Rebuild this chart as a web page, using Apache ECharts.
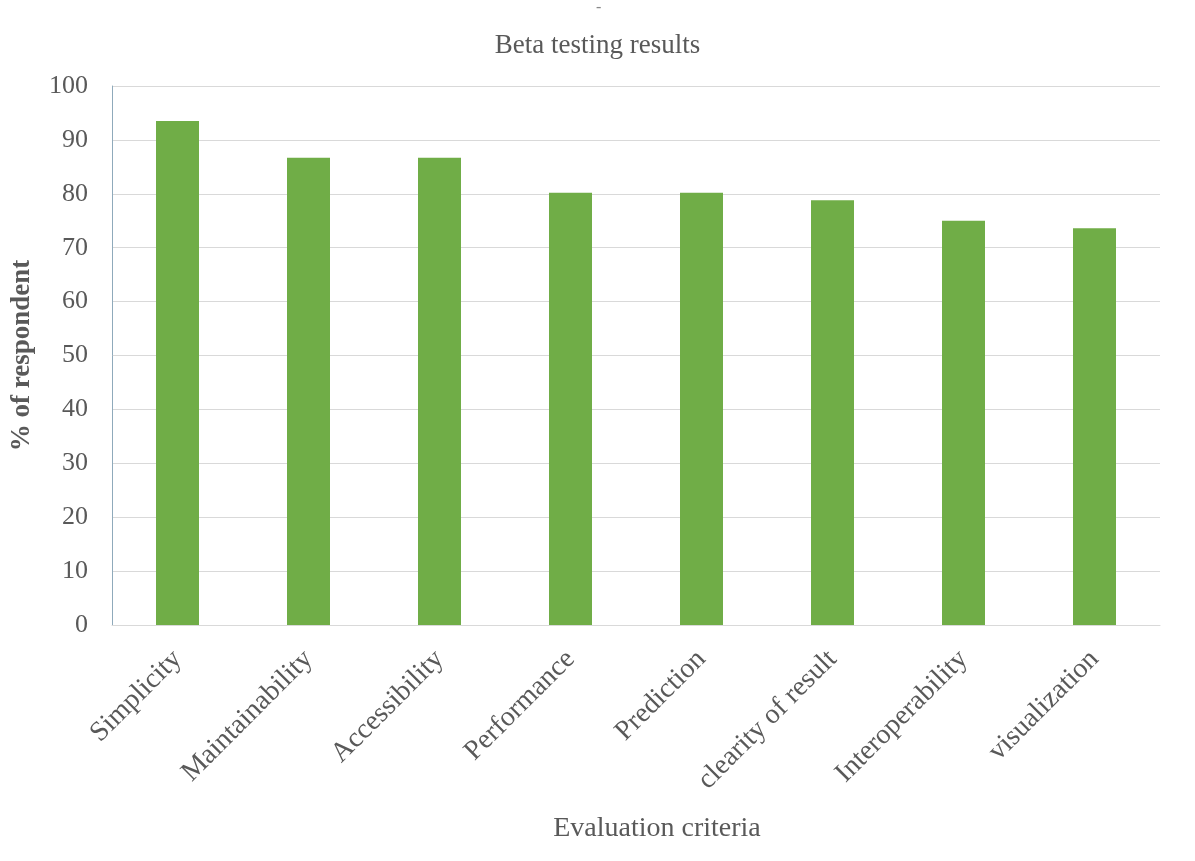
<!DOCTYPE html>
<html>
<head>
<meta charset="utf-8">
<script src="https://cdn.jsdelivr.net/npm/echarts@6/dist/echarts.min.js"></script>
<style>html,body{margin:0;padding:0;background:#fff;}#c{width:1195px;height:861px;}</style>
</head>
<body>
<div id="c"></div>
<script>
const categories = ['Simplicity','Maintainability','Accessibility','Performance','Prediction','clearity of result','Interoperability','visualization'];
const values = [93.5, 86.7, 86.7, 80.2, 80.2, 78.8, 75.0, 73.6];
const yTicks = { min: 0, max: 100, interval: 10 };

const font = '"Liberation Serif", "Times New Roman", serif';
const chart = echarts.init(document.getElementById('c'));
chart.setOption({
  backgroundColor: '#fff',
  animation: false,
  title: {
    text: 'Beta testing results',
    left: 'center',
    top: 27,
    textStyle: { fontFamily: font, fontSize: 27, fontWeight: 'normal', color: '#595959' }
  },
  graphic: [{
    type: 'text', left: 596, top: 0,
    style: { text: '-', font: '16px "Liberation Serif"', fill: '#888' }
  }],
  grid: { left: 112, right: 35, top: 86, bottom: 236 },
  xAxis: {
    type: 'category',
    data: categories,
    name: 'Evaluation criteria',
    nameLocation: 'middle',
    nameGap: 190,
    nameTextStyle: { fontFamily: font, fontSize: 28, color: '#595959', padding: [0, 0, 0, 42] },
    axisLine: { lineStyle: { color: '#d9d9d9' } },
    axisTick: { show: false },
    axisLabel: { rotate: 45, interval: 0, margin: 30, fontFamily: font, fontSize: 28, color: '#595959' }
  },
  yAxis: {
    type: 'value',
    min: yTicks.min, max: yTicks.max, interval: yTicks.interval,
    name: '% of respondent',
    nameLocation: 'middle',
    nameGap: 76,
    nameTextStyle: { fontFamily: font, fontSize: 27, fontWeight: 'bold', color: '#595959' },
    axisLine: { show: true, lineStyle: { color: '#8faabb' } },
    axisTick: { show: false },
    axisLabel: { margin: 24, fontFamily: font, fontSize: 26, color: '#595959' },
    splitLine: { lineStyle: { color: '#d9d9d9' } }
  },
  series: [{
    type: 'bar',
    data: values,
    barWidth: 43,
    itemStyle: { color: '#70ad47' }
  }]
});
</script>
</body>
</html>
